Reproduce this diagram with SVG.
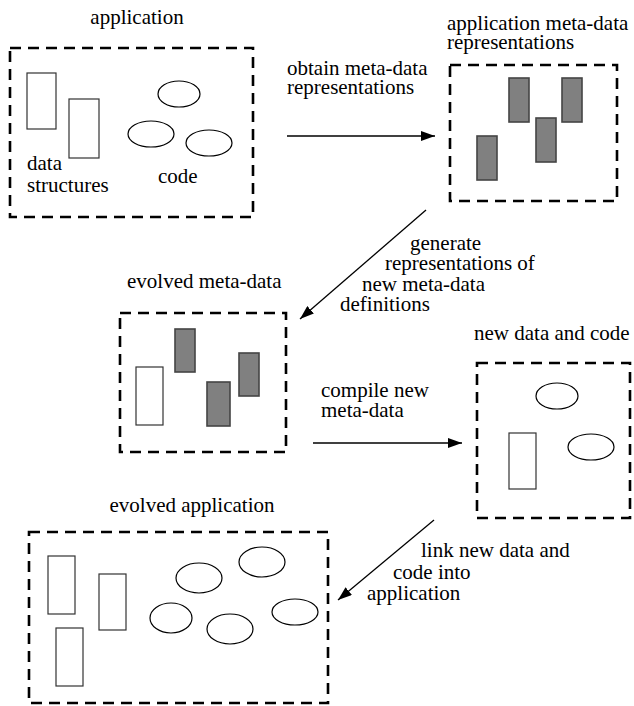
<svg xmlns="http://www.w3.org/2000/svg" width="634" height="706" viewBox="0 0 634 706">
  <style>
    text { font-family: "Liberation Serif", "Times New Roman", serif; font-size: 21px; fill: #000; }
    .frame { fill: none; stroke: #000; stroke-width: 2.6; stroke-dasharray: 11 7; }
    .box { fill: #fff; stroke: #333; stroke-width: 1.2; }
    .meta { fill: #808080; stroke: #444; stroke-width: 1.6; }
    .oval { fill: #fff; stroke: #000; stroke-width: 1.2; }
    .conn { fill: none; stroke: #000; stroke-width: 1.3; marker-end: url(#head); }
  </style>
  <defs>
    <marker id="head" viewBox="0 0 14 10" refX="14" refY="5" markerWidth="14" markerHeight="10" markerUnits="userSpaceOnUse" orient="auto">
      <path d="M0,0 L14,5 L0,10 Z" fill="#000"/>
    </marker>
  </defs>

  <rect width="634" height="706" fill="#fff"/>

  <!-- original application -->
  <g id="application">
    <text x="137" y="24" text-anchor="middle">application</text>
    <rect class="frame" x="10" y="48" width="243" height="169"/>
    <rect class="box" x="27" y="73" width="29" height="56"/>
    <rect class="box" x="69" y="99" width="30" height="59"/>
    <ellipse class="oval" cx="179" cy="94" rx="21" ry="13"/>
    <ellipse class="oval" cx="151" cy="134" rx="23" ry="13"/>
    <ellipse class="oval" cx="209" cy="143" rx="23" ry="13"/>
    <text x="27" y="170">data</text>
    <text x="27" y="192">structures</text>
    <text x="158" y="183">code</text>
  </g>

  <!-- meta-data representations of the application -->
  <g id="meta-representations">
    <text x="447" y="30">application meta-data</text>
    <text x="447" y="49">representations</text>
    <rect class="frame" x="450" y="65" width="167" height="136"/>
    <rect class="meta" x="477" y="136" width="20" height="44"/>
    <rect class="meta" x="509" y="78" width="20" height="44"/>
    <rect class="meta" x="536" y="118" width="20" height="44"/>
    <rect class="meta" x="562" y="78" width="20" height="44"/>
  </g>

  <!-- evolved meta-data -->
  <g id="evolved-meta-data">
    <text x="127" y="288">evolved meta-data</text>
    <rect class="frame" x="120" y="313" width="166" height="139"/>
    <rect class="box" x="136" y="367" width="27" height="58"/>
    <rect class="meta" x="175" y="329" width="20" height="43"/>
    <rect class="meta" x="207" y="382" width="23" height="44"/>
    <rect class="meta" x="239" y="353" width="20" height="43"/>
  </g>

  <!-- newly compiled data and code -->
  <g id="new-data-code">
    <text x="474" y="340">new data and code</text>
    <rect class="frame" x="477" y="363" width="153" height="155"/>
    <ellipse class="oval" cx="557" cy="396" rx="21" ry="13"/>
    <ellipse class="oval" cx="591" cy="447" rx="23" ry="13"/>
    <rect class="box" x="509" y="433" width="27" height="56"/>
  </g>

  <!-- evolved application -->
  <g id="evolved-application">
    <text x="192" y="512" text-anchor="middle">evolved application</text>
    <rect class="frame" x="29" y="532" width="299" height="171"/>
    <rect class="box" x="48" y="556" width="27" height="58"/>
    <rect class="box" x="99" y="574" width="27" height="56"/>
    <rect class="box" x="56" y="628" width="27" height="58"/>
    <ellipse class="oval" cx="199" cy="578" rx="23" ry="15"/>
    <ellipse class="oval" cx="262" cy="562" rx="23" ry="15"/>
    <ellipse class="oval" cx="171" cy="618" rx="21" ry="15"/>
    <ellipse class="oval" cx="230" cy="629" rx="23" ry="15"/>
    <ellipse class="oval" cx="295" cy="612" rx="23" ry="13"/>
  </g>

  <!-- process steps -->
  <g id="connectors">
    <line class="conn" x1="287" y1="136" x2="435" y2="136"/>
    <text x="287" y="75">obtain meta-data</text>
    <text x="287" y="94">representations</text>

    <line class="conn" x1="426" y1="210" x2="300" y2="319"/>
    <text x="410" y="250">generate</text>
    <text x="385" y="270">representations of</text>
    <text x="362" y="291">new meta-data</text>
    <text x="340" y="311">definitions</text>

    <line class="conn" x1="313" y1="443" x2="462" y2="443"/>
    <text x="321" y="397">compile new</text>
    <text x="321" y="417">meta-data</text>

    <line class="conn" x1="434" y1="520" x2="338" y2="600"/>
    <text x="421" y="557">link new data and</text>
    <text x="393" y="579">code into</text>
    <text x="367" y="600">application</text>
  </g>
</svg>
